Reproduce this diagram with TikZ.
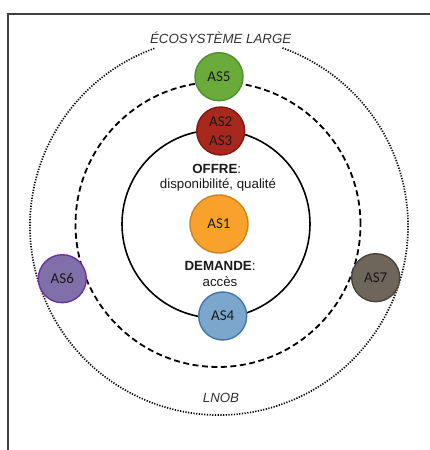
\documentclass[tikz,border=0pt]{standalone}
\usepackage{fontspec}
\setmainfont{Liberation Sans}
\newfontfamily\calib{Carlito}
\definecolor{gfill}{HTML}{6AAB3C}\definecolor{gdraw}{HTML}{4F8F2E}
\definecolor{rfill}{HTML}{A8281E}\definecolor{rdraw}{HTML}{7E1C14}
\definecolor{ofill}{HTML}{F9A12A}\definecolor{odraw}{HTML}{CC8420}
\definecolor{bfill}{HTML}{7BA7CC}\definecolor{bdraw}{HTML}{4477A8}
\definecolor{pfill}{HTML}{8070AA}\definecolor{pdraw}{HTML}{7030A0}
\definecolor{kfill}{HTML}{6E665A}\definecolor{kdraw}{HTML}{4A453C}
\tikzset{
  asnode/.style={circle, line width=1.4pt, minimum size=48pt, inner sep=0pt,
    font=\calib\fontsize{15}{16}\selectfont, text=black!90, align=center},
  lbl/.style={font=\fontsize{13.3}{14}\selectfont, text=black!90, inner sep=0pt},
  ilbl/.style={font=\itshape\fontsize{13.3}{14}\selectfont, text=black!80, inner sep=0pt},
}
\begin{document}
\begin{tikzpicture}[x=1pt,y=1pt]
\useasboundingbox (0,0) rectangle (429,450);
\fill[white] (0,0) rectangle (429,450);
\draw[line width=1.3pt, black!75] (8,-5) -- (8,436) -- (440,436);
% circles
\draw[line width=1.6pt] (216,226) circle [radius=94];
\draw[line width=1.8pt, dash pattern=on 6pt off 3.5pt] (218,225.5) circle [radius=142.5];
\draw[line width=1.7pt, dash pattern=on 1.2pt off 1.5pt] (219,224) ++(110:189) arc [start angle=110, end angle=430.5, radius=189];
% nodes
\node[asnode, fill=gfill, draw=gdraw] (as5) at (219,373.3) {AS5};
\node[asnode, fill=rfill, draw=rdraw] (as23) at (220.7,319) {AS2\\[3.5pt]AS3};
\node[asnode, fill=ofill, draw=odraw, minimum size=58pt] (as1) at (219,226) {AS1};
\node[asnode, fill=bfill, draw=bdraw] (as4) at (222.7,134) {AS4};
\node[asnode, fill=pfill, draw=pdraw] (as6) at (62.3,171.3) {AS6};
\node[asnode, fill=kfill, draw=kdraw] (as7) at (375.7,172.3) {AS7};
% texts
\node[lbl] (offre) at (216.7,281) {\bfseries OFFRE\mdseries:};
\node[lbl] (dispo) at (218,265) {disponibilité, qualité};
\node[lbl] (dem) at (220,184.3) {\bfseries DEMANDE\mdseries:};
\node[lbl] (acc) at (220,168) {accès};
\node[ilbl] (eco) at (220.7,412.3) {ÉCOSYSTÈME LARGE};
\node[ilbl] (lnob) at (221,52.3) {LNOB};
\end{tikzpicture}
\end{document}
